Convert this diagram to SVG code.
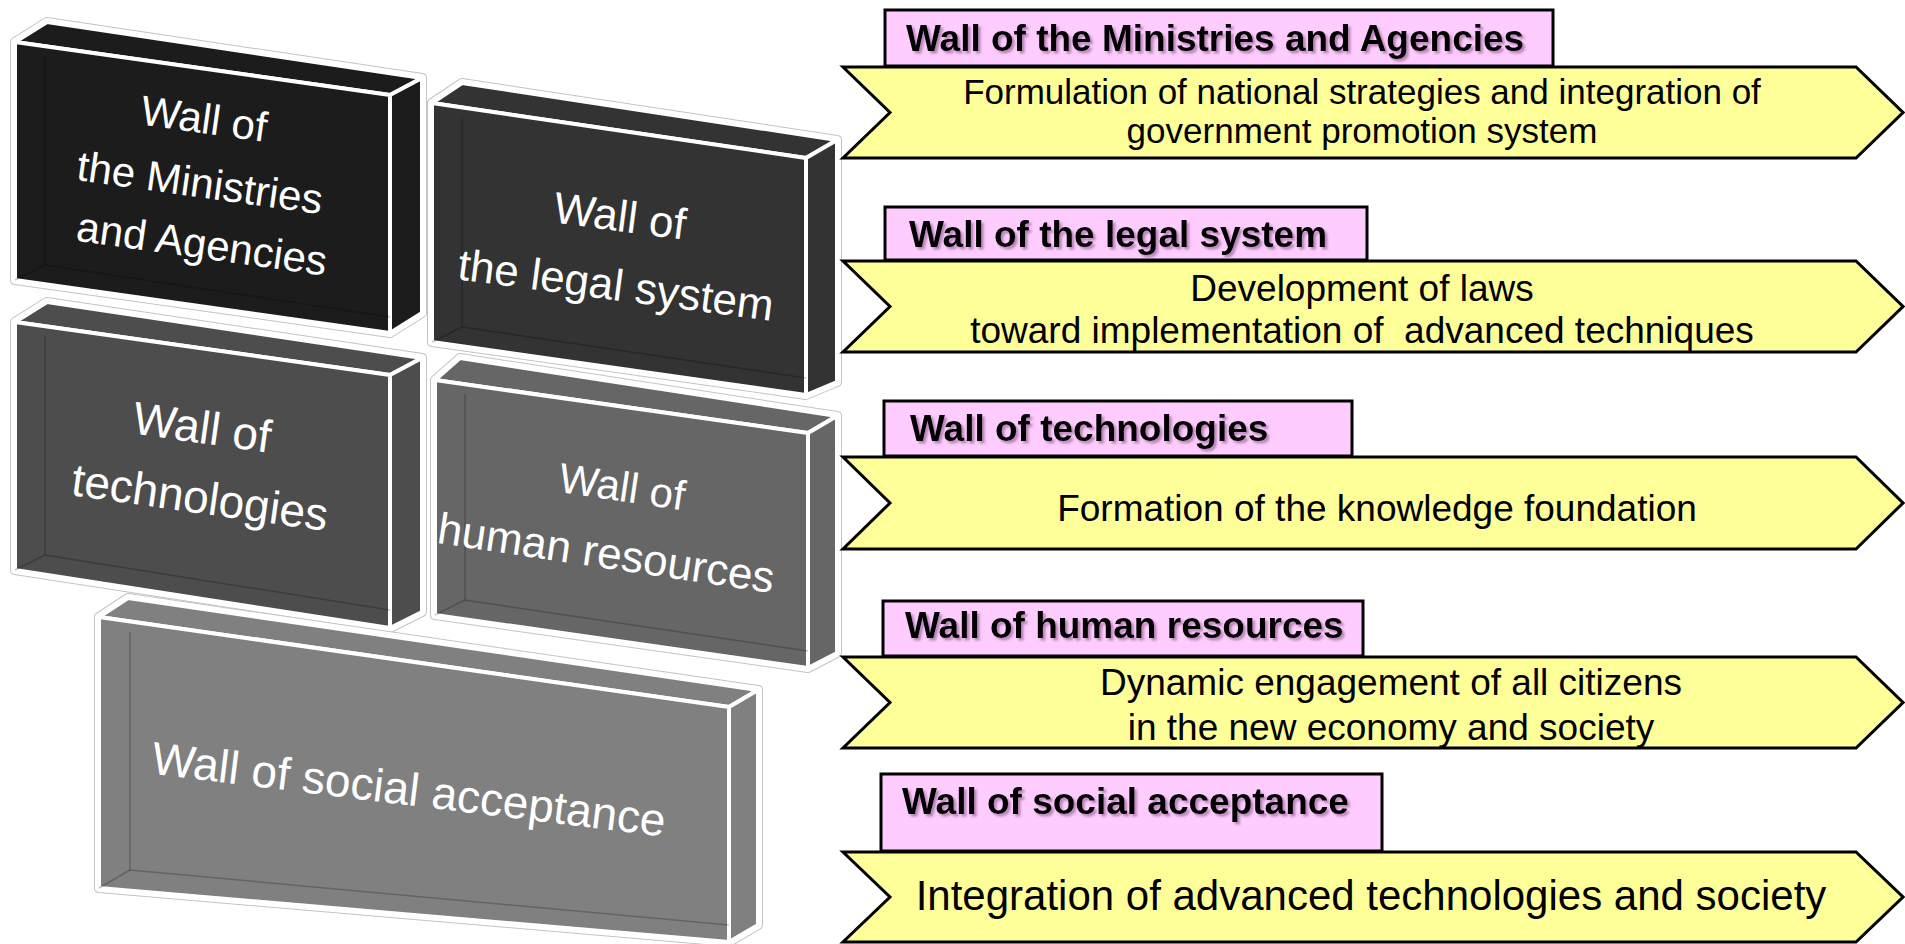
<svg xmlns="http://www.w3.org/2000/svg" width="1905" height="944" viewBox="0 0 1905 944">
<defs>
<style>
.sil{fill:#fff;stroke:#c4c4c4;stroke-width:10;stroke-linejoin:round}
.sil2{fill:#fff;stroke:#fff;stroke-width:8;stroke-linejoin:round}
.face{stroke:#fff;stroke-width:4;stroke-linejoin:round}
.inner{fill:none;stroke:#000;stroke-opacity:0.22;stroke-width:1.5}
.b1{fill:#1c1c1c}.b2{fill:#333}.b3{fill:#4d4d4d}.b4{fill:#666}.b5{fill:#808080}
.wt{fill:#fff;font-family:"Liberation Sans",Arial,sans-serif;text-anchor:middle}
.pink{fill:#ffccff;stroke:#000;stroke-width:3}
.chev{fill:#ffff99;stroke:#000;stroke-width:3;stroke-linejoin:miter}
.pt{font-family:"Liberation Sans",Arial,sans-serif;font-weight:bold;font-size:37px;fill:#000}
.ct{font-family:"Liberation Sans",Arial,sans-serif;fill:#000;text-anchor:middle}
</style>
<filter id="sh" x="-5%" y="-30%" width="110%" height="160%">
<feDropShadow dx="2.5" dy="2.5" stdDeviation="1.2" flood-color="#7a4a7a" flood-opacity="0.55"/>
</filter>
</defs>
<rect width="1905" height="944" fill="#fff"/>

<g id="wall-ministries">
<polygon class="sil" points="15,42 47,22 422,78 422,313 390,333 15,280"/>
<polygon class="sil2" points="15,42 47,22 422,78 422,313 390,333 15,280"/>
<polygon class="face b1" points="15,42 47,22 422,78 390,95"/>
<polygon class="face b1" points="390,95 422,78 422,313 390,333"/>
<polygon class="face b1" points="15,42 390,95 390,333 15,280"/>
<polyline class="inner" points="45,56 45,265 390,317"/>
<line class="inner" x1="15" y1="280" x2="45" y2="265"/>
<text class="wt" font-size="42" transform="rotate(8 202 133)" x="202" y="133">Wall of</text>
<text class="wt" font-size="42" transform="rotate(8 198 197)" x="198" y="197">the Ministries</text>
<text class="wt" font-size="42" transform="rotate(8 200 258)" x="200" y="258">and Agencies</text>
</g>

<g id="wall-legal">
<polygon class="sil" points="432,103 462,83 837,140 837,382 806,395 432,342"/>
<polygon class="sil2" points="432,103 462,83 837,140 837,382 806,395 432,342"/>
<polygon class="face b2" points="432,103 462,83 837,140 806,158"/>
<polygon class="face b2" points="806,158 837,140 837,382 806,395"/>
<polygon class="face b2" points="432,103 806,158 806,395 432,342"/>
<polyline class="inner" points="462,118 462,327 806,378"/>
<line class="inner" x1="432" y1="342" x2="462" y2="327"/>
<text class="wt" font-size="44" transform="rotate(7.5 618 231)" x="618" y="231">Wall of</text>
<text class="wt" font-size="44" transform="rotate(7.5 614 300)" x="614" y="300">the legal system</text>
</g>

<g id="wall-technologies">
<polygon class="sil" points="15,322 47,302 422,358 422,612 390,628 15,570"/>
<polygon class="sil2" points="15,322 47,302 422,358 422,612 390,628 15,570"/>
<polygon class="face b3" points="15,322 47,302 422,358 390,375"/>
<polygon class="face b3" points="390,375 422,358 422,612 390,628"/>
<polygon class="face b3" points="15,322 390,375 390,628 15,570"/>
<polyline class="inner" points="45,336 45,555 390,610"/>
<line class="inner" x1="15" y1="570" x2="45" y2="555"/>
<text class="wt" font-size="46" transform="rotate(8 200 443)" x="200" y="443">Wall of</text>
<text class="wt" font-size="46" transform="rotate(8 198 513)" x="198" y="513">technologies</text>
</g>

<g id="wall-human-resources">
<polygon class="sil" points="435,380 460,358 837,416 837,653 808,668 435,615"/>
<polygon class="sil2" points="435,380 460,358 837,416 837,653 808,668 435,615"/>
<polygon class="face b4" points="435,380 460,358 837,416 808,433"/>
<polygon class="face b4" points="808,433 837,416 837,653 808,668"/>
<polygon class="face b4" points="435,380 808,433 808,668 435,615"/>
<polyline class="inner" points="465,394 465,600 808,651"/>
<line class="inner" x1="435" y1="615" x2="465" y2="600"/>
<text class="wt" font-size="42" transform="rotate(8.5 620 501)" x="620" y="501">Wall of</text>
<text class="wt" font-size="44" transform="rotate(8.5 604 568)" x="604" y="568">human resources</text>
</g>

<g id="wall-social-acceptance">
<polygon class="sil" points="99,617 128,598 758,690 758,925 729,942 99,888"/>
<polygon class="sil2" points="99,617 128,598 758,690 758,925 729,942 99,888"/>
<polygon class="face b5" points="99,617 128,598 758,690 729,707"/>
<polygon class="face b5" points="729,707 758,690 758,925 729,942"/>
<polygon class="face b5" points="99,617 729,707 729,942 99,888"/>
<polyline class="inner" points="130,632 130,870 729,925"/>
<line class="inner" x1="99" y1="888" x2="130" y2="870"/>
<text class="wt" font-size="46" transform="rotate(7 407 805)" x="407" y="805">Wall of social acceptance</text>
</g>

<g id="connectors"></g>

<g id="label-ministries">
<path class="chev" d="M843,67 L1856,67 L1903,112.5 L1856,158 L843,158 L890,112.5 Z"/>
<rect class="pink" x="885" y="10" width="668" height="56"/>
<text class="pt" filter="url(#sh)" x="906" y="51">Wall of the Ministries and Agencies</text>
<text class="ct" font-size="35" x="1362" y="104">Formulation of national strategies and integration of</text>
<text class="ct" font-size="35" x="1362" y="143">government promotion system</text>
</g>

<g id="label-legal">
<path class="chev" d="M843,261 L1856,261 L1903,306.5 L1856,352 L843,352 L890,306.5 Z"/>
<rect class="pink" x="885" y="207" width="482" height="53"/>
<text class="pt" filter="url(#sh)" x="909" y="247">Wall of the legal system</text>
<text class="ct" font-size="37" x="1362" y="301">Development of laws</text>
<text class="ct" font-size="37" x="1362" y="343" xml:space="preserve">toward implementation of  advanced techniques</text>
</g>

<g id="label-technologies">
<path class="chev" d="M843,457 L1856,457 L1903,503 L1856,549 L843,549 L890,503 Z"/>
<rect class="pink" x="884" y="401" width="468" height="55"/>
<text class="pt" filter="url(#sh)" x="910" y="441">Wall of technologies</text>
<text class="ct" font-size="37" x="1377" y="521">Formation of the knowledge foundation</text>
</g>

<g id="label-human-resources">
<path class="chev" d="M843,657 L1856,657 L1903,702.5 L1856,748 L843,748 L890,702.5 Z"/>
<rect class="pink" x="883" y="601" width="480" height="55"/>
<text class="pt" filter="url(#sh)" x="905" y="638">Wall of human resources</text>
<text class="ct" font-size="37" x="1391" y="695">Dynamic engagement of all citizens</text>
<text class="ct" font-size="37" x="1391" y="740">in the new economy and society</text>
</g>

<g id="label-social-acceptance">
<path class="chev" d="M843,852 L1856,852 L1903,897 L1856,942 L843,942 L890,897 Z"/>
<rect class="pink" x="881" y="774" width="501" height="77"/>
<text class="pt" filter="url(#sh)" x="902" y="814">Wall of social acceptance</text>
<text class="ct" font-size="42" x="1371" y="910">Integration of advanced technologies and society</text>
</g>
</svg>
